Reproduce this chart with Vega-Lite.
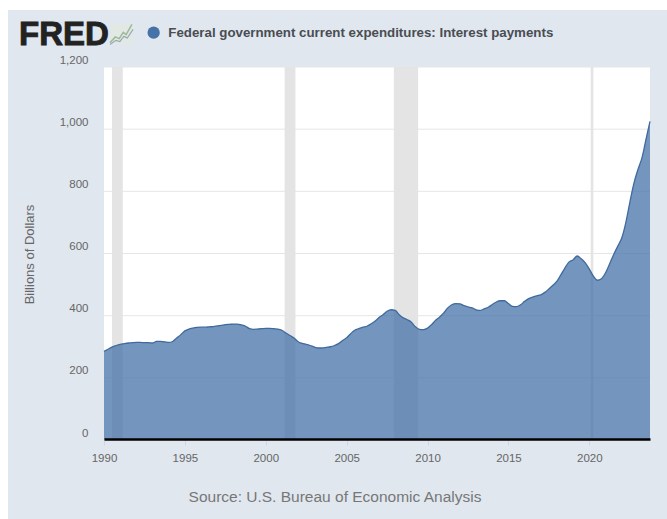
{
  "$schema": "https://vega.github.io/schema/vega-lite/v6.json",
  "width": 546,
  "height": 373,
  "autosize": {"type": "none"},
  "padding": {"left": 104, "top": 67, "right": 17, "bottom": 79},
  "background": "#ffffff",
  "view": {"stroke": null},
  "datasets": {
    "interest": [
      {"date":"1990-01-01","value":285},{"date":"1990-04-01","value":292},{"date":"1990-07-01","value":299},{"date":"1990-10-01","value":304},
      {"date":"1991-01-01","value":308},{"date":"1991-04-01","value":310},{"date":"1991-07-01","value":312},{"date":"1991-10-01","value":313},
      {"date":"1992-01-01","value":314},{"date":"1992-04-01","value":314},{"date":"1992-07-01","value":313},{"date":"1992-10-01","value":313},
      {"date":"1993-01-01","value":312},{"date":"1993-04-01","value":317},{"date":"1993-07-01","value":317},{"date":"1993-10-01","value":316},
      {"date":"1994-01-01","value":314},{"date":"1994-04-01","value":317},{"date":"1994-07-01","value":328},{"date":"1994-10-01","value":339},
      {"date":"1995-01-01","value":351},{"date":"1995-04-01","value":357},{"date":"1995-07-01","value":360},{"date":"1995-10-01","value":362},
      {"date":"1996-01-01","value":363},{"date":"1996-04-01","value":363},{"date":"1996-07-01","value":364},{"date":"1996-10-01","value":365},
      {"date":"1997-01-01","value":367},{"date":"1997-04-01","value":369},{"date":"1997-07-01","value":371},{"date":"1997-10-01","value":372},
      {"date":"1998-01-01","value":373},{"date":"1998-04-01","value":373},{"date":"1998-07-01","value":370},{"date":"1998-10-01","value":366},
      {"date":"1999-01-01","value":358},{"date":"1999-04-01","value":356},{"date":"1999-07-01","value":357},{"date":"1999-10-01","value":358},
      {"date":"2000-01-01","value":359},{"date":"2000-04-01","value":359},{"date":"2000-07-01","value":358},{"date":"2000-10-01","value":357},
      {"date":"2001-01-01","value":353},{"date":"2001-04-01","value":344},{"date":"2001-07-01","value":336},{"date":"2001-10-01","value":328},
      {"date":"2002-01-01","value":316},{"date":"2002-04-01","value":311},{"date":"2002-07-01","value":308},{"date":"2002-10-01","value":304},
      {"date":"2003-01-01","value":299},{"date":"2003-04-01","value":296},{"date":"2003-07-01","value":296},{"date":"2003-10-01","value":298},
      {"date":"2004-01-01","value":300},{"date":"2004-04-01","value":304},{"date":"2004-07-01","value":310},{"date":"2004-10-01","value":320},
      {"date":"2005-01-01","value":329},{"date":"2005-04-01","value":342},{"date":"2005-07-01","value":353},{"date":"2005-10-01","value":358},
      {"date":"2006-01-01","value":363},{"date":"2006-04-01","value":366},{"date":"2006-07-01","value":373},{"date":"2006-10-01","value":382},
      {"date":"2007-01-01","value":394},{"date":"2007-04-01","value":403},{"date":"2007-07-01","value":414},{"date":"2007-10-01","value":419},
      {"date":"2008-01-01","value":417},{"date":"2008-04-01","value":403},{"date":"2008-07-01","value":393},{"date":"2008-10-01","value":387},
      {"date":"2009-01-01","value":379},{"date":"2009-04-01","value":364},{"date":"2009-07-01","value":356},{"date":"2009-10-01","value":355},
      {"date":"2010-01-01","value":360},{"date":"2010-04-01","value":371},{"date":"2010-07-01","value":385},{"date":"2010-10-01","value":396},
      {"date":"2011-01-01","value":409},{"date":"2011-04-01","value":425},{"date":"2011-07-01","value":435},{"date":"2011-10-01","value":439},
      {"date":"2012-01-01","value":438},{"date":"2012-04-01","value":432},{"date":"2012-07-01","value":428},{"date":"2012-10-01","value":425},
      {"date":"2013-01-01","value":419},{"date":"2013-04-01","value":417},{"date":"2013-07-01","value":422},{"date":"2013-10-01","value":427},
      {"date":"2014-01-01","value":436},{"date":"2014-04-01","value":444},{"date":"2014-07-01","value":448},{"date":"2014-10-01","value":448},
      {"date":"2015-01-01","value":439},{"date":"2015-04-01","value":430},{"date":"2015-07-01","value":429},{"date":"2015-10-01","value":435},
      {"date":"2016-01-01","value":446},{"date":"2016-04-01","value":455},{"date":"2016-07-01","value":460},{"date":"2016-10-01","value":464},
      {"date":"2017-01-01","value":467},{"date":"2017-04-01","value":475},{"date":"2017-07-01","value":486},{"date":"2017-10-01","value":498},
      {"date":"2018-01-01","value":511},{"date":"2018-04-01","value":532},{"date":"2018-07-01","value":554},{"date":"2018-10-01","value":573},
      {"date":"2019-01-01","value":580},{"date":"2019-04-01","value":592},{"date":"2019-07-01","value":583},{"date":"2019-10-01","value":570},
      {"date":"2020-01-01","value":550},{"date":"2020-04-01","value":527},{"date":"2020-07-01","value":514},{"date":"2020-10-01","value":519},
      {"date":"2021-01-01","value":538},{"date":"2021-04-01","value":566},{"date":"2021-07-01","value":596},{"date":"2021-10-01","value":623},
      {"date":"2022-01-01","value":650},{"date":"2022-04-01","value":698},{"date":"2022-07-01","value":763},{"date":"2022-10-01","value":825},
      {"date":"2023-01-01","value":870},{"date":"2023-04-01","value":907},{"date":"2023-07-01","value":966},{"date":"2023-10-01","value":1025}
    ],
    "recessions": [
      {"start":"1990-07-01","end":"1991-03-01"},
      {"start":"2001-03-01","end":"2001-11-01"},
      {"start":"2007-12-01","end":"2009-06-01"},
      {"start":"2020-02-01","end":"2020-04-01"}
    ],
    "gridValues": [{"level":200},{"level":400},{"level":600},{"level":800},{"level":1000},{"level":1200}]
  },
  "layer": [
    {
      "description": "Pale page panel behind the header and axes",
      "data": {"values": [{"panel":"page"}]},
      "mark": {"type": "rect", "fill": "#e0e7ef", "clip": false},
      "encoding": {
        "x": {"datum": {"year": 1984, "month": 1, "date": 25}, "type": "temporal", "scale": {"domain": ["1990-01-01", "2023-10-01"]}},
        "x2": {"datum": {"year": 2032, "month": 1, "date": 1}},
        "y": {"datum": 1383, "type": "quantitative", "scale": {"domain": [0, 1200], "nice": false}},
        "y2": {"datum": -400}
      }
    },
    {
      "description": "White plotting area",
      "data": {"values": [{"panel":"plot"}]},
      "mark": {"type": "rect", "fill": "#ffffff"},
      "encoding": {
        "x": {"datum": {"year": 1990, "month": 1, "date": 1}, "type": "temporal", "scale": {"domain": ["1990-01-01", "2023-10-01"]}},
        "x2": {"datum": {"year": 2023, "month": 10, "date": 1}},
        "y": {"datum": 0, "type": "quantitative", "scale": {"domain": [0, 1200], "nice": false}},
        "y2": {"datum": 1200}
      }
    },
    {
      "description": "Horizontal gridlines under the series",
      "data": {"name": "gridValues"},
      "mark": {"type": "rule", "color": "#e6e6e6", "strokeWidth": 1},
      "encoding": {
        "y": {"field": "level", "type": "quantitative", "scale": {"domain": [0, 1200], "nice": false}}
      }
    },
    {
      "description": "NBER recession bands",
      "data": {"name": "recessions"},
      "mark": {"type": "rect", "fill": "#e4e4e4"},
      "encoding": {
        "x": {"field": "start", "type": "temporal", "scale": {"domain": ["1990-01-01", "2023-10-01"]}},
        "x2": {"field": "end"},
        "y": {"datum": 0, "type": "quantitative", "scale": {"domain": [0, 1200], "nice": false}},
        "y2": {"datum": 1200}
      }
    },
    {
      "data": {"name": "interest"},
      "mark": {"type": "area", "opacity": 0.75, "interpolate": "monotone"},
      "encoding": {
        "x": {
          "field": "date",
          "type": "temporal",
          "scale": {"domain": ["1990-01-01", "2023-10-01"]},
          "axis": {
            "zindex": 1,
            "format": "%Y",
            "values": ["1990-01-01","1995-01-01","2000-01-01","2005-01-01","2010-01-01","2015-01-01","2020-01-01"],
            "offset": -1,
            "grid": false,
            "labelFlush": false,
            "labelOverlap": false,
            "domainColor": "#000000",
            "domainWidth": 2.6,
            "tickColor": "#ccd6eb",
            "tickSize": 6,
            "labelFont": "Liberation Sans",
            "labelFontSize": 11.5,
            "labelColor": "#666666",
            "labelPadding": 7,
            "title": "Source: U.S. Bureau of Economic Analysis",
            "titleFont": "Liberation Sans",
            "titleFontSize": 15.5,
            "titleFontWeight": "normal",
            "titleColor": "#777777",
            "titleX": 230.5,
            "titleY": 50,
            "titleAlign": "center"
          }
        },
        "y": {
          "field": "value",
          "type": "quantitative",
          "scale": {"domain": [0, 1200], "nice": false},
          "axis": {
            "zindex": 1,
            "format": ",d",
            "values": [0,200,400,600,800,1000,1200],
            "grid": false,
            "domain": false,
            "ticks": false,
            "labelFont": "Liberation Sans",
            "labelFontSize": 11.5,
            "labelColor": "#666666",
            "labelPadding": 16,
            "labelOffset": -7,
            "title": "Billions of Dollars",
            "titleFont": "Liberation Sans",
            "titleFontSize": 13,
            "titleFontWeight": "normal",
            "titleColor": "#666666",
            "titleX": -68,
            "titleY": 187
          }
        },
        "color": {
          "datum": "Federal government current expenditures: Interest payments",
          "scale": {"range": ["#4572a7"]},
          "legend": {
            "orient": "none",
            "legendX": 43,
            "legendY": -41,
            "title": null,
            "padding": 0,
            "symbolType": "circle",
            "symbolSize": 150,
            "symbolOpacity": 1,
            "symbolFillColor": "#3b72b6",
            "symbolStrokeWidth": 0,
            "labelFont": "Liberation Sans",
            "labelFontSize": 13.3,
            "labelFontWeight": "bold",
            "labelColor": "#4a4d52",
            "labelLimit": 500,
            "labelOffset": 8
          }
        }
      }
    },
    {
      "data": {"name": "interest"},
      "mark": {"type": "line", "color": "#3f6a9e", "strokeWidth": 1.3, "interpolate": "monotone"},
      "encoding": {
        "x": {"field": "date", "type": "temporal", "scale": {"domain": ["1990-01-01", "2023-10-01"]}},
        "y": {"field": "value", "type": "quantitative", "scale": {"domain": [0, 1200], "nice": false}}
      }
    },
    {
      "description": "Wordmark in the header",
      "data": {"values": [{"panel":"wordmark"}]},
      "mark": {
        "type": "text",
        "text": "FRED",
        "font": "Liberation Sans",
        "fontSize": 33,
        "fontWeight": "bold",
        "fill": "#222222",
        "stroke": "#222222",
        "strokeWidth": 0.9,
        "align": "left",
        "baseline": "alphabetic",
        "clip": false
      },
      "encoding": {
        "x": {"datum": {"year": 1984, "month": 10, "date": 1}, "type": "temporal", "scale": {"domain": ["1990-01-01", "2023-10-01"]}},
        "y": {"datum": 1272, "type": "quantitative", "scale": {"domain": [0, 1200], "nice": false}}
      }
    },
    {
      "description": "Small chart icon beside the wordmark: tile",
      "data": {"values": [{"panel":"icon"}]},
      "mark": {
        "type": "point",
        "shape": "M-1,-0.9H1V0.9H-1Z",
        "size": 530,
        "filled": true,
        "fill": "#e2e8e4",
        "opacity": 1,
        "strokeWidth": 0
      },
      "encoding": {
        "x": {"datum": {"year": 1991, "month": 2, "date": 1}, "type": "temporal", "scale": {"domain": ["1990-01-01", "2023-10-01"]}},
        "y": {"datum": 1306, "type": "quantitative", "scale": {"domain": [0, 1200], "nice": false}}
      }
    },
    {
      "description": "Small chart icon beside the wordmark: green trace",
      "data": {"values": [{"panel":"icon"}]},
      "mark": {
        "type": "point",
        "shape": "M-1,0.75L-0.55,0.25L-0.2,0.4L0.15,-0.15L0.4,0.05L0.9,-0.85",
        "size": 530,
        "filled": false,
        "stroke": "#9cb998",
        "opacity": 1,
        "strokeWidth": 1.5
      },
      "encoding": {
        "x": {"datum": {"year": 1991, "month": 2, "date": 1}, "type": "temporal", "scale": {"domain": ["1990-01-01", "2023-10-01"]}},
        "y": {"datum": 1306, "type": "quantitative", "scale": {"domain": [0, 1200], "nice": false}}
      }
    },
    {
      "description": "Small chart icon beside the wordmark: slate trace",
      "data": {"values": [{"panel":"icon"}]},
      "mark": {
        "type": "point",
        "shape": "M-1,0.9L-0.5,0.55L-0.15,0.65L0.2,0.2L0.5,0.35L1,-0.4",
        "size": 530,
        "filled": false,
        "stroke": "#98a8b4",
        "opacity": 1,
        "strokeWidth": 1.2
      },
      "encoding": {
        "x": {"datum": {"year": 1991, "month": 2, "date": 1}, "type": "temporal", "scale": {"domain": ["1990-01-01", "2023-10-01"]}},
        "y": {"datum": 1306, "type": "quantitative", "scale": {"domain": [0, 1200], "nice": false}}
      }
    }
  ]
}
